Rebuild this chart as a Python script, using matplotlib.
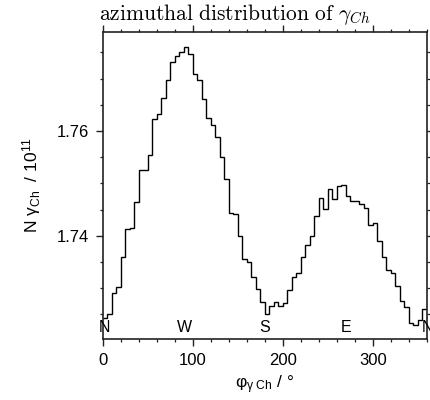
"""Azimuthal distribution of gamma_Ch, step histogram."""
import numpy as np
import matplotlib
matplotlib.use('Agg')
import matplotlib.pyplot as plt
from matplotlib.ticker import MultipleLocator

plt.rcParams['font.family'] = ['Liberation Sans', 'DejaVu Sans']
plt.rcParams['mathtext.fontset'] = 'custom'
plt.rcParams['mathtext.rm'] = 'Liberation Sans'
plt.rcParams['mathtext.it'] = 'Liberation Sans:italic'
plt.rcParams['mathtext.sf'] = 'Liberation Sans'

# 5 degree bins, counts in units of 1e11
bin_edges = np.arange(0, 361, 5)
counts = [
    1.7244, 1.7250, 1.7290, 1.7303, 1.7360, 1.7413, 1.7414, 1.7465, 1.7525, 1.7526,
    1.7554, 1.7623, 1.7632, 1.7663, 1.7697, 1.7732, 1.7743, 1.7750, 1.7760, 1.7747,
    1.7708, 1.7697, 1.7661, 1.7624, 1.7612, 1.7589, 1.7550, 1.7508, 1.7443, 1.7442,
    1.7400, 1.7355, 1.7350, 1.7321, 1.7298, 1.7274, 1.7250, 1.7266, 1.7274, 1.7266,
    1.7271, 1.7296, 1.7321, 1.7329, 1.7360, 1.7382, 1.7399, 1.7438, 1.7473, 1.7451,
    1.7490, 1.7470, 1.7496, 1.7497, 1.7476, 1.7466, 1.7466, 1.7460, 1.7454, 1.7420,
    1.7425, 1.7391, 1.7359, 1.7335, 1.7329, 1.7304, 1.7276, 1.7264, 1.7234, 1.7230,
    1.7239, 1.7261,
]
compass_labels = ['N', 'W', 'S', 'E', 'N']
compass_pos = [2, 90, 180, 270, 360]

fig = plt.figure(figsize=(4.3, 4.0), dpi=100)
ax = fig.add_axes([0.2395, 0.1525, 0.7535, 0.7675])

ax.stairs(counts, bin_edges, baseline=None, color='black', linewidth=1.0)

ax.set_xlim(0, 360)
ax.set_ylim(1.7203, 1.7789)
ax.xaxis.set_major_locator(MultipleLocator(100))
ax.xaxis.set_minor_locator(MultipleLocator(20))
ax.yaxis.set_major_locator(MultipleLocator(0.02))
ax.yaxis.set_minor_locator(MultipleLocator(0.005))
ax.tick_params(which='both', direction='out', top=True, right=True,
               labelsize=12, colors='#222222', labelcolor='black')
ax.tick_params(which='major', length=5, width=1.0, pad=5)
ax.tick_params(which='minor', length=2.5, width=0.9)
for sp in ax.spines.values():
    sp.set_linewidth(1.2)
    sp.set_color('#222222')

for lab, pos in zip(compass_labels, compass_pos):
    ax.text(pos, 1.7216, lab, ha='center', va='baseline', fontsize=11.5,
            clip_on=False)

ax.set_ylabel(r'N $\mathrm{\gamma}_{\mathrm{Ch}}$  / 10$^{11}$', fontsize=12.5,
              labelpad=10)
ax.set_xlabel(r'φ$_{\mathrm{\gamma\ Ch}}$ / °', fontsize=12.5, labelpad=4)

fig.text(0.547, 0.95,
         r'$\mathrm{azimuthal\ distribution\ of}\ \gamma_{Ch}$',
         ha='center', va='baseline', fontsize=15.5, math_fontfamily='cm')

fig.savefig('out.png', dpi=100)
